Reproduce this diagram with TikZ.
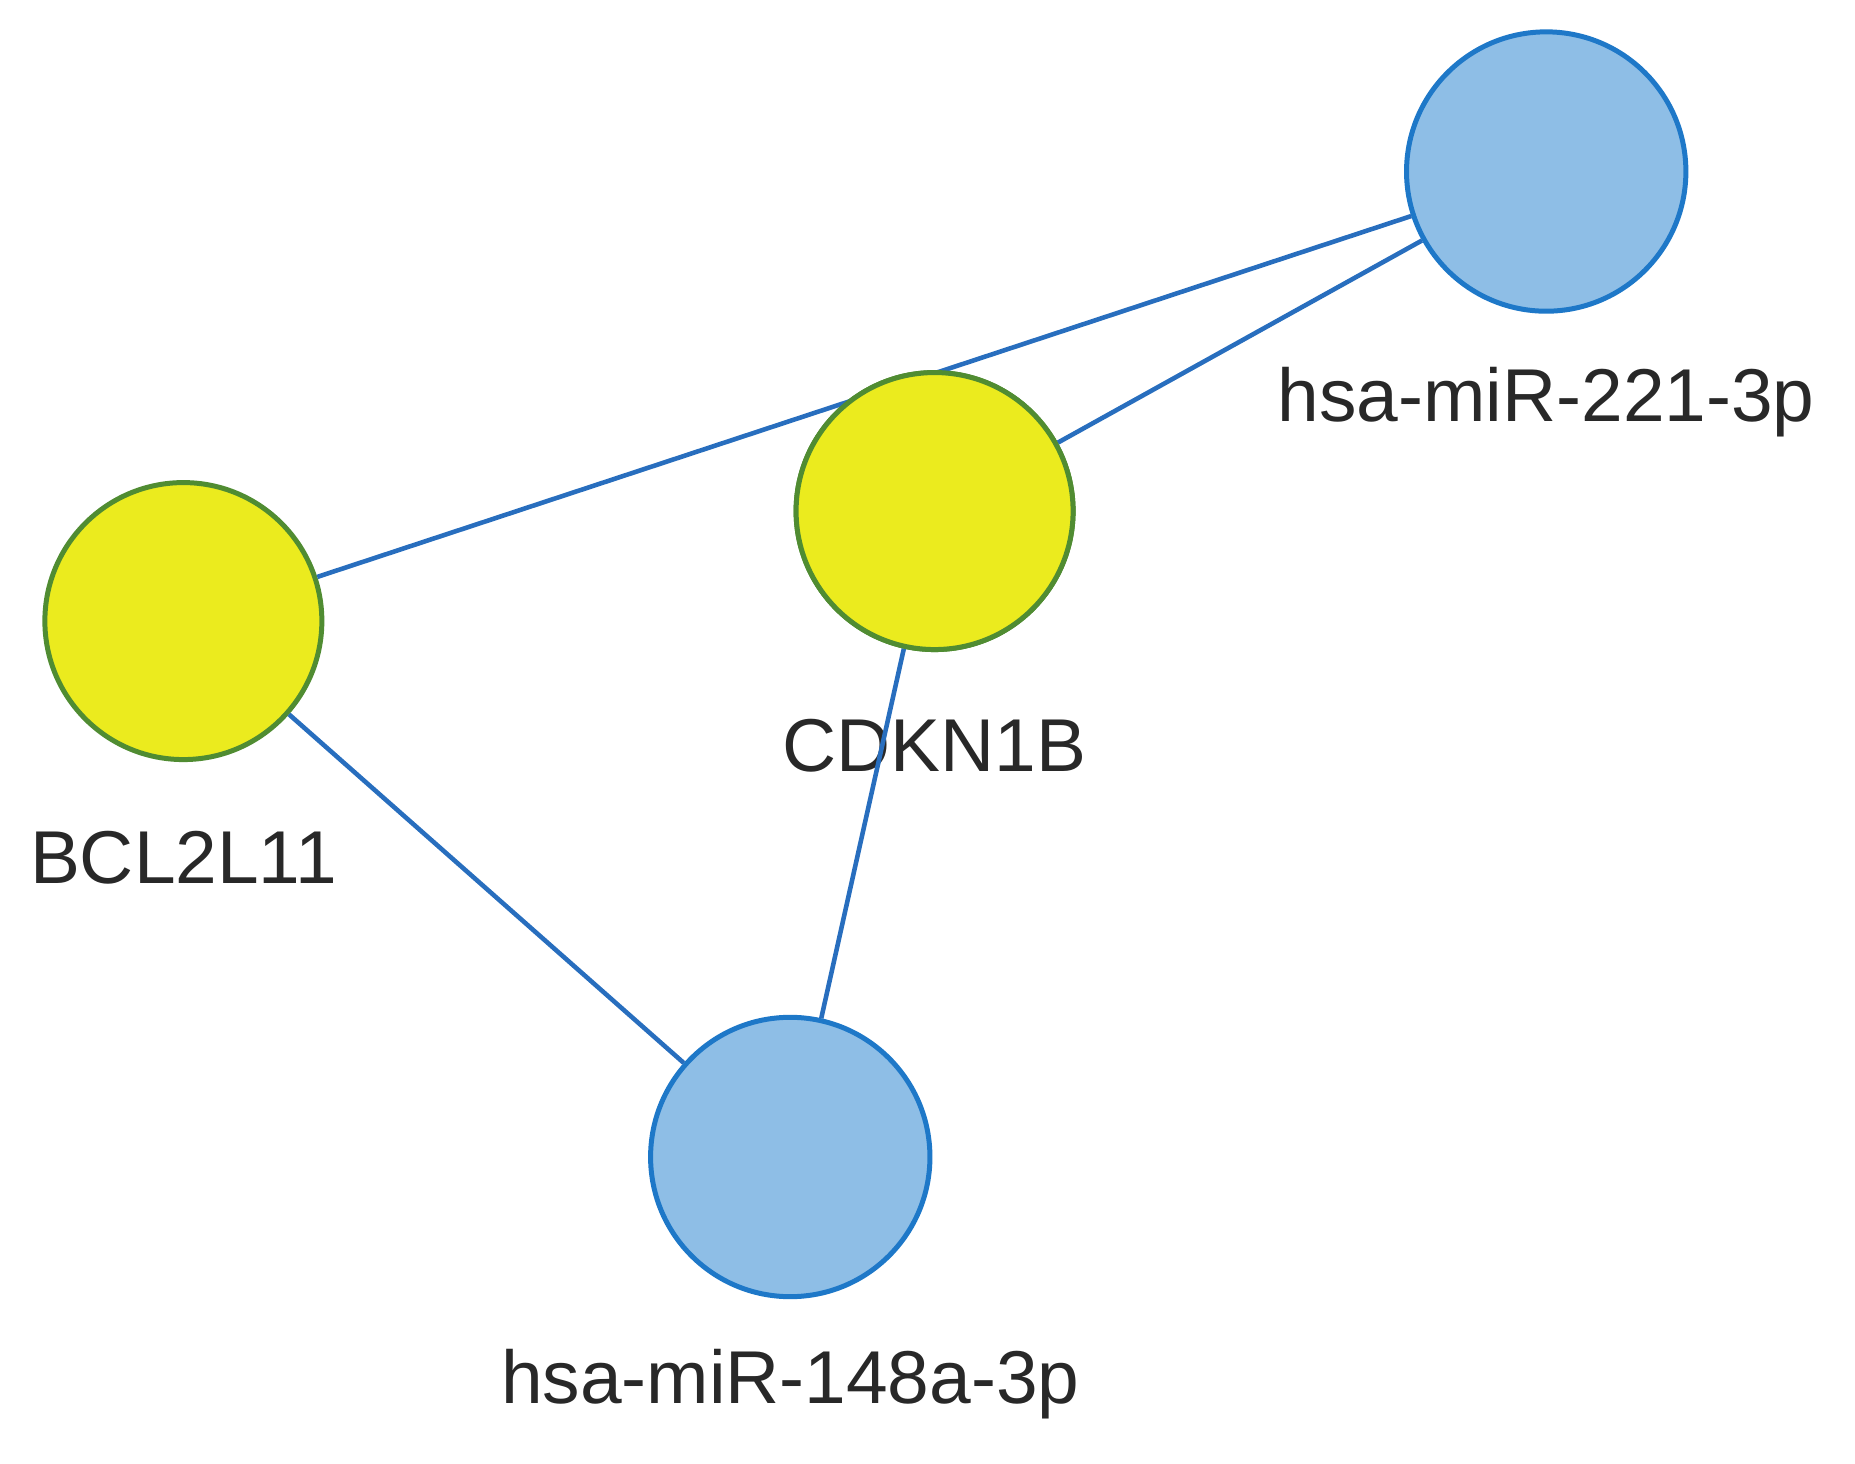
\documentclass[tikz,border=0pt]{standalone}
\usepackage{fontspec}
\setmainfont{Liberation Sans}
\definecolor{bfill}{RGB}{142,190,230}
\definecolor{bdraw}{RGB}{30,120,200}
\definecolor{yfill}{RGB}{235,235,30}
\definecolor{ydraw}{RGB}{80,140,50}
\definecolor{edge}{RGB}{40,110,190}
\definecolor{txt}{RGB}{40,40,40}
\begin{document}
\begin{tikzpicture}[x=0.01cm,y=-0.01cm,
  mir/.style={circle,draw=bdraw,fill=bfill,line width=1.2pt,minimum size=2.36cm,inner sep=0},
  gene/.style={circle,draw=ydraw,fill=yfill,line width=1.2pt,minimum size=2.34cm,inner sep=0},
  lbl/.style={font=\fontsize{18}{20}\selectfont,text=txt},
  link/.style={draw=edge,line width=1.1pt}]
\useasboundingbox (0,0) rectangle (1568,1237);
\node[mir] (m221) at (1307,145) {};
\node[gene] (cdk) at (790,432) {};
\node[gene] (bcl) at (155,525) {};
\node[mir] (m148) at (668,978) {};
\begin{scope}[on background layer/.try]
\end{scope}
\node[lbl] (l221) at (1307,340) {hsa-miR-221-3p};
\node[lbl] (lcdk) at (790,630) {CDKN1B};
\node[lbl] (lbcl) at (155,725) {BCL2L11};
\node[lbl] (l148) at (668,1170) {hsa-miR-148a-3p};
\begin{pgfinterruptboundingbox}
\end{pgfinterruptboundingbox}
\path[link] (bcl) -- (m221);
\path[link] (cdk) -- (m221);
\path[link] (cdk) -- (m148);
\path[link] (bcl) -- (m148);
\node[gene] at (cdk) {};
\end{tikzpicture}
\end{document}
